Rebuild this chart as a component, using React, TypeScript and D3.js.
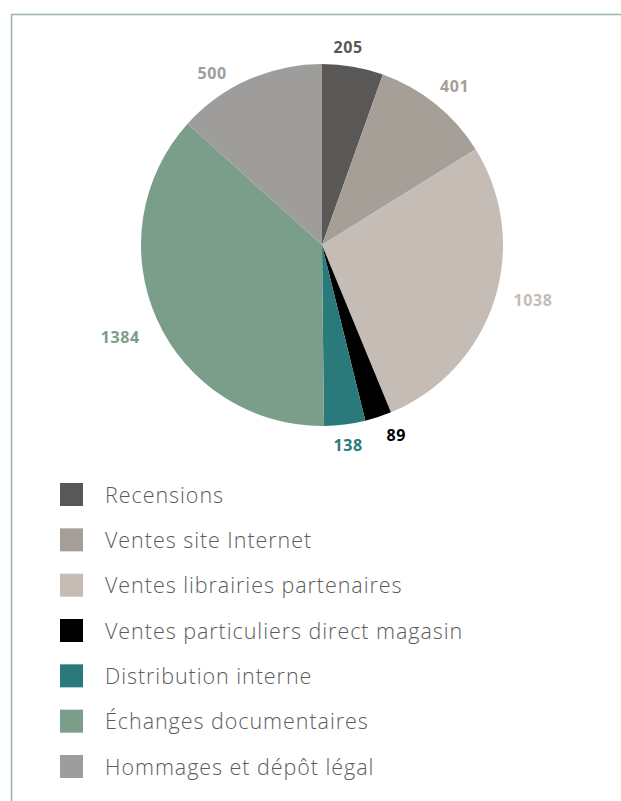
import React from "react";
import * as d3 from "d3";

const categories = [
  "Recensions",
  "Ventes site Internet",
  "Ventes librairies partenaires",
  "Ventes particuliers direct magasin",
  "Distribution interne",
  "Échanges documentaires",
  "Hommages et dépôt légal",
];
const values = [205, 401, 1038, 89, 138, 1384, 500];
const colors = ["#595856", "#a69f98", "#c5bcb6", "#000000", "#2a7a7b", "#7a9e8a", "#9e9d9b"];

// label placement tweaks (degrees, px)
const labelAngleShift = [-2.3, 1, -3.3, -3.2, -0.2, -0.4, -8.6];
const labelRadius = [199, 207, 218, 204, 202, 222, 204];

export default function App() {
  const W = 621, H = 801;
  const cx = 322, cy = 245, R = 181;
  const pie = d3.pie<number>().sort(null).value((d) => d);
  const arcs = pie(values);
  const arcGen = d3.arc<d3.PieArcDatum<number>>().innerRadius(0).outerRadius(R);
  const legendY = d3.scaleLinear().domain([0, categories.length - 1]).range([495, 767]);

  return (
    <svg width={W} height={H} style={{ position: "absolute", left: 0, top: 0 }}>
      <rect width={W} height={H} fill="#fff" />
      <path d={`M11.5,${H} L11.5,14.5 L${W},14.5`} fill="none" stroke="#9db5a5" strokeWidth={1.5} />
      <g transform={`translate(${cx},${cy})`}>
        {arcs.map((a, i) => (
          <path key={i} d={arcGen(a) || ""} fill={colors[i]} />
        ))}
        {arcs.map((a, i) => {
          const mid = (a.startAngle + a.endAngle) / 2 + (labelAngleShift[i] * Math.PI) / 180;
          const r = labelRadius[i];
          const x = Math.sin(mid) * r;
          const y = -Math.cos(mid) * r;
          return (
            <text
              key={"l" + i}
              x={x}
              y={y}
              dy="0.36em"
              textAnchor="middle"
              fontFamily="'Open Sans', sans-serif"
              fontWeight={700}
              fontSize={16}
              letterSpacing={0.6}
              fill={colors[i]}
            >
              {values[i]}
            </text>
          );
        })}
      </g>
      {categories.map((c, i) => (
        <g key={"lg" + i} transform={`translate(0,${legendY(i)})`}>
          <rect x={60} y={-12} width={23} height={23} fill={colors[i]} />
          <text
            x={105}
            y={0}
            dy="0.36em"
            fontFamily="'Open Sans', sans-serif"
            fontWeight={300}
            fontSize={21.5}
            letterSpacing={0.95}
            fill="#5c5c5c"
          >
            {c}
          </text>
        </g>
      ))}
    </svg>
  );
}
